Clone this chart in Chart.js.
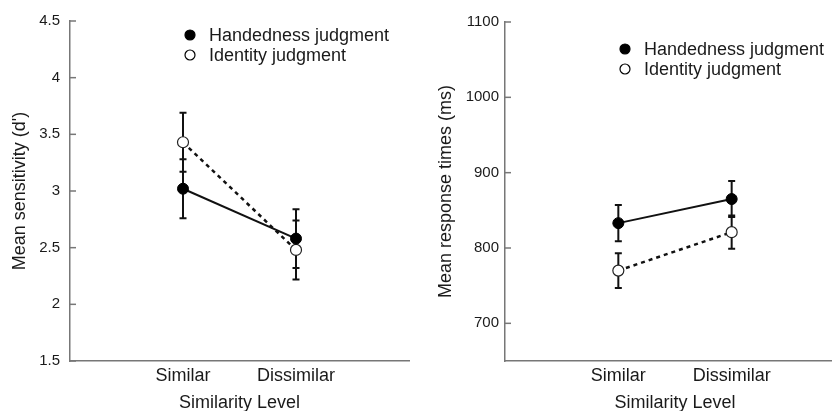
<!DOCTYPE html>
<html>
<head>
<meta charset="utf-8">
<script src="https://cdn.jsdelivr.net/npm/chart.js@4.4.0/dist/chart.umd.min.js"></script>
<style>
html, body { margin: 0; padding: 0; background: #fff; overflow: hidden; width: 832px; height: 411px; }
#left { position: absolute; left: 0; top: 0; }
#right { position: absolute; left: 416px; top: 0; }
</style>
</head>
<body>
<canvas id="left" width="416" height="420"></canvas>
<canvas id="right" width="440" height="420"></canvas>
<script>
const categories = ['Similar', 'Dissimilar'];
const seriesNames = ['Handedness judgment', 'Identity judgment'];

// left panel: sensitivity (d')
const sensHanded = [3.02, 2.58];
const sensHandedErr = [0.26, 0.26];
const sensIdentity = [3.43, 2.48];
const sensIdentityErr = [0.26, 0.26];
const sensTicks = [1.5, 2, 2.5, 3, 3.5, 4, 4.5];

// right panel: response times (ms)
const rtHanded = [833, 865];
const rtHandedErr = [24, 24];
const rtIdentity = [770, 821];
const rtIdentityErr = [23, 22];
const rtTicks = [700, 800, 900, 1000, 1100];

const FONT = "'Liberation Sans', Arial, Helvetica, sans-serif";
const TEXT = '#1a1a1a';
const AXIS = '#777';

// error bars drawn through the y scale
const errorBars = {
    id: 'errorBars',
    beforeDatasetsDraw(chart) {
        const ctx = chart.ctx;
        const y = chart.scales.y;
        chart.data.datasets.forEach((ds, i) => {
            const meta = chart.getDatasetMeta(i);
            ds.data.forEach((p, j) => {
                const px = meta.data[j].x;
                const top = y.getPixelForValue(p.y + ds.errors[j]);
                const bot = y.getPixelForValue(p.y - ds.errors[j]);
                ctx.save();
                ctx.strokeStyle = '#111';
                ctx.lineWidth = 2;
                ctx.beginPath();
                ctx.moveTo(px, top); ctx.lineTo(px, bot);
                ctx.moveTo(px - 3.5, top); ctx.lineTo(px + 3.5, top);
                ctx.moveTo(px - 3.5, bot); ctx.lineTo(px + 3.5, bot);
                ctx.stroke();
                ctx.restore();
            });
        });
    }
};

// inward tick marks + legend inside the plot
const extras = {
    id: 'extras',
    afterDraw(chart, args, opts) {
        const ctx = chart.ctx;
        const y = chart.scales.y;
        const left = chart.chartArea.left;
        ctx.save();
        ctx.strokeStyle = AXIS;
        ctx.lineWidth = 1.5;
        y.ticks.forEach(t => {
            const py = y.getPixelForValue(t.value);
            ctx.beginPath();
            ctx.moveTo(left, py); ctx.lineTo(left + 6, py);
            ctx.stroke();
        });
        // legend
        const lx = left + opts.dx;
        const ly = chart.chartArea.top + opts.dy;
        ctx.font = '18px ' + FONT;
        ctx.textBaseline = 'middle';
        seriesNames.forEach((name, i) => {
            const cy = ly + i * 20;
            ctx.beginPath();
            ctx.arc(lx, cy, 5, 0, Math.PI * 2);
            ctx.fillStyle = i === 0 ? '#000' : '#fff';
            ctx.fill();
            ctx.lineWidth = 1.2;
            ctx.strokeStyle = '#000';
            ctx.stroke();
            ctx.fillStyle = TEXT;
            ctx.fillText(name, lx + 19, cy + 1);
        });
        ctx.restore();
    }
};

function makePanel(id, hand, handErr, ident, identErr, ticks, yMin, yMax, yTitle, cfg) {
    const canvas = document.getElementById(id);
    return new Chart(canvas, {
        type: 'line',
        data: {
            datasets: [
                {
                    label: seriesNames[0],
                    data: hand.map((v, i) => ({ x: i + 1, y: v })),
                    errors: handErr,
                    borderColor: '#111',
                    borderWidth: 2,
                    pointRadius: 5.5,
                    pointBackgroundColor: '#000',
                    pointBorderColor: '#000',
                    pointBorderWidth: 1
                },
                {
                    label: seriesNames[1],
                    data: ident.map((v, i) => ({ x: i + 1, y: v })),
                    errors: identErr,
                    borderColor: '#111',
                    borderWidth: 2.5,
                    borderDash: [4, 4],
                    pointRadius: 5.5,
                    pointBackgroundColor: '#fff',
                    pointBorderColor: '#222',
                    pointBorderWidth: 1.2
                }
            ]
        },
        options: {
            responsive: false,
            animation: false,
            devicePixelRatio: 1,
            layout: { padding: { top: cfg.top, right: cfg.right, bottom: 0, left: 0 } },
            plugins: {
                legend: { display: false },
                tooltip: { enabled: false },
                extras: { dx: cfg.legendDx, dy: cfg.legendDy }
            },
            scales: {
                x: {
                    type: 'linear',
                    min: 0,
                    max: 3,
                    afterBuildTicks: s => { s.ticks = categories.map((c, i) => ({ value: i + 1 })); },
                    afterFit: s => { s.height = 420 - cfg.bottom; },
                    ticks: {
                        callback: v => categories[v - 1],
                        color: TEXT,
                        font: { family: FONT, size: 18 },
                        padding: 4,
                        maxRotation: 0
                    },
                    grid: { display: false, drawTicks: false },
                    border: { color: AXIS, width: 1.5 },
                    title: {
                        display: true,
                        text: 'Similarity Level',
                        color: TEXT,
                        font: { family: FONT, size: 18 },
                        padding: { top: 0, bottom: 6 }
                    }
                },
                y: {
                    min: yMin,
                    max: yMax,
                    afterBuildTicks: s => { s.ticks = ticks.map(v => ({ value: v })); },
                    afterFit: s => { s.width = cfg.axisW; },
                    ticks: {
                        callback: v => String(v),
                        color: TEXT,
                        font: { family: FONT, size: 15 },
                        padding: cfg.tickPad
                    },
                    grid: { display: false, drawTicks: false },
                    border: { color: AXIS, width: 1.5 },
                    title: {
                        display: true,
                        text: yTitle,
                        color: TEXT,
                        font: { family: FONT, size: 18 },
                        padding: { top: cfg.titlePad, bottom: 0 }
                    }
                }
            }
        },
        plugins: [errorBars, extras]
    });
}

makePanel('left', sensHanded, sensHandedErr, sensIdentity, sensIdentityErr, sensTicks,
    1.5, 4.5, "Mean sensitivity (d')",
    { top: 21, right: 7, bottom: 361, axisW: 70, tickPad: 10, titlePad: 9, legendDx: 120, legendDy: 14 });

makePanel('right', rtHanded, rtHandedErr, rtIdentity, rtIdentityErr, rtTicks,
    650, 1100, 'Mean response times (ms)',
    { top: 22, right: 11, bottom: 361, axisW: 89, tickPad: 6, titlePad: 19, legendDx: 120, legendDy: 27 });
</script>
</body>
</html>
